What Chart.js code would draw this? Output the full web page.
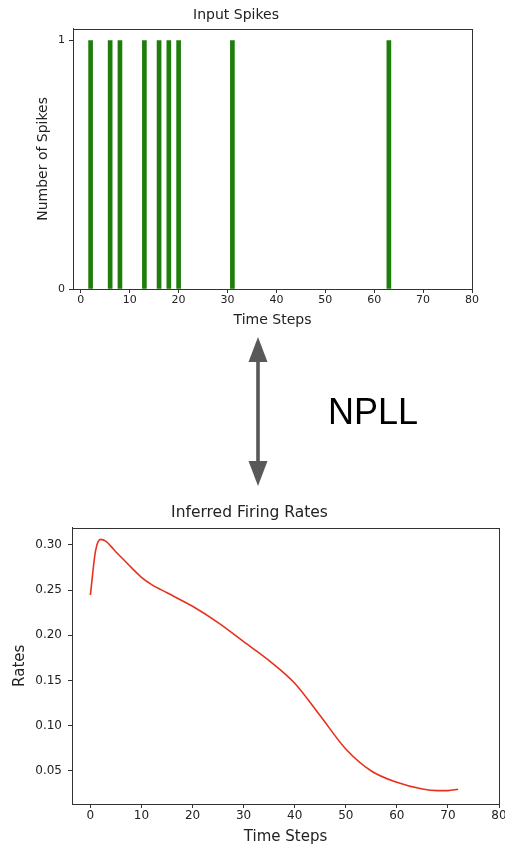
<!DOCTYPE html>
<html>
<head>
<meta charset="utf-8">
<script src="https://cdn.jsdelivr.net/npm/chart.js@4/dist/chart.umd.min.js"></script>
<style>
    html, body { margin: 0; padding: 0; background: #fff; overflow: hidden; }
    body { width: 505px; height: 845px; position: relative; }
    #spikesBox { position: absolute; left: 0; top: 0; width: 505px; height: 335px; }
    #ratesBox { position: absolute; left: 0; top: 495px; width: 505px; height: 350px; }
    #seta { position: absolute; left: 0; top: 0; }
    #npll { position: absolute; left: 328px; top: 394px; font: 36px "Liberation Sans", Arial, sans-serif; color: #000; line-height: 1; }
</style>
</head>
<body>

<div id="spikesBox"><canvas id="spikes" width="505" height="335"></canvas></div>

<svg id="seta" width="505" height="845">
    <rect x="256.2" y="360" width="3.6" height="103" fill="#595959"/>
    <polygon points="258,337 248.5,362 267.5,362" fill="#595959"/>
    <polygon points="258,486 248.5,461 267.5,461" fill="#595959"/>
</svg>
<div id="npll">NPLL</div>

<div id="ratesBox"><canvas id="rates" width="505" height="350"></canvas></div>

<script>
// spikes per time step
const spikeSteps = [2, 6, 8, 13, 16, 18, 20, 31, 63];
const spikeCounts = [1, 1, 1, 1, 1, 1, 1, 1, 1];
const spikeXTicks = [0, 10, 20, 30, 40, 50, 60, 70, 80];
const spikeYTicks = [0, 1];

// inferred firing rate curve
const rateSteps = [0, 1, 2, 3, 4, 5, 6, 8, 10, 12, 15, 20, 25, 30, 35, 40, 45, 50, 55, 60, 65, 68, 70, 72];
const rateValues = [0.2445, 0.293, 0.306, 0.304, 0.2985, 0.292, 0.2865, 0.275, 0.264, 0.256, 0.247, 0.232,
    0.214, 0.193, 0.172, 0.147, 0.111, 0.0743, 0.050, 0.0375, 0.030, 0.0283, 0.0283, 0.0298];
const rateXTicks = [0, 10, 20, 30, 40, 50, 60, 70, 80];
const rateYTicks = [0.05, 0.10, 0.15, 0.20, 0.25, 0.30];

const FONTE = "'DejaVu Sans', sans-serif";
const TINTA = '#222';
const EIXO = '#333';

// frame on all four sides, like matplotlib spines
const moldura = {
    id: 'moldura',
    afterDraw(chart) {
        const a = chart.chartArea;
        const ctx = chart.ctx;
        ctx.save();
        ctx.strokeStyle = EIXO;
        ctx.lineWidth = 1;
        ctx.strokeRect(Math.round(a.left) + 0.5, Math.round(a.top) + 0.5,
            Math.round(a.right - a.left), Math.round(a.bottom - a.top));
        ctx.restore();
    }
};

function ticksFixos(lista) {
    return function (scale) {
        scale.ticks = lista.map(v => ({ value: v }));
    };
}

function grade() {
    return {
        display: true,
        drawOnChartArea: false,
        drawTicks: true,
        tickLength: 4,
        offset: false,
        color: EIXO
    };
}

new Chart(document.getElementById('spikes').getContext('2d'), {
    type: 'bar',
    data: {
        datasets: [{
            data: spikeSteps.map((t, i) => ({ x: t, y: spikeCounts[i] })),
            backgroundColor: '#1f7d0c',
            borderWidth: 0,
            barThickness: 4
        }]
    },
    plugins: [moldura],
    options: {
        responsive: false,
        animation: false,
        layout: { padding: { left: 0, right: 33, top: 0, bottom: 0 } },
        plugins: {
            legend: { display: false },
            tooltip: { enabled: false },
            title: {
                display: true,
                text: 'Input Spikes',
                color: TINTA,
                font: { family: FONTE, size: 14, weight: 'normal' },
                padding: { top: 7, bottom: 5 }
            }
        },
        scales: {
            x: {
                type: 'linear',
                offset: false,
                min: -1.6,
                max: 80,
                afterBuildTicks: ticksFixos(spikeXTicks),
                afterFit: s => { s.height = 46; s.paddingRight = 0; s.paddingLeft = 0; },
                grid: grade(),
                border: { display: true, color: EIXO },
                ticks: { color: TINTA, font: { family: FONTE, size: 11 }, padding: 1, maxRotation: 0 },
                title: {
                    display: true, text: 'Time Steps', color: TINTA,
                    font: { family: FONTE, size: 14 }, padding: { top: 0, bottom: 6 }
                }
            },
            y: {
                type: 'linear',
                min: 0,
                max: 1.047,
                afterBuildTicks: ticksFixos(spikeYTicks),
                afterFit: s => { s.width = 73; },
                grid: grade(),
                border: { display: true, color: EIXO },
                ticks: { color: TINTA, font: { family: FONTE, size: 11 }, padding: 4 },
                title: {
                    display: true, text: 'Number of Spikes', color: TINTA,
                    font: { family: FONTE, size: 14 }, padding: { top: 35, bottom: 0 }
                }
            }
        }
    }
});

new Chart(document.getElementById('rates').getContext('2d'), {
    type: 'line',
    data: {
        datasets: [{
            data: rateSteps.map((t, i) => ({ x: t, y: rateValues[i] })),
            borderColor: '#e8301c',
            borderWidth: 1.6,
            pointRadius: 0,
            fill: false,
            cubicInterpolationMode: 'monotone'
        }]
    },
    plugins: [moldura],
    options: {
        responsive: false,
        animation: false,
        layout: { padding: { left: 0, right: 6, top: 0, bottom: 0 } },
        plugins: {
            legend: { display: false },
            tooltip: { enabled: false },
            title: {
                display: true,
                text: 'Inferred Firing Rates',
                color: TINTA,
                font: { family: FONTE, size: 15.5, weight: 'normal' },
                padding: { top: 9, bottom: 5 }
            }
        },
        scales: {
            x: {
                type: 'linear',
                min: -3.6,
                max: 80,
                afterBuildTicks: ticksFixos(rateXTicks),
                afterFit: s => { s.height = 41; s.paddingRight = 0; s.paddingLeft = 0; },
                grid: grade(),
                border: { display: true, color: EIXO },
                ticks: { color: TINTA, font: { family: FONTE, size: 12 }, padding: 1, maxRotation: 0 },
                title: {
                    display: true, text: 'Time Steps', color: TINTA,
                    font: { family: FONTE, size: 15 }, padding: { top: 0, bottom: -1 }
                }
            },
            y: {
                type: 'linear',
                min: 0.0135,
                max: 0.319,
                afterBuildTicks: ticksFixos(rateYTicks),
                afterFit: s => { s.width = 72; },
                grid: grade(),
                border: { display: true, color: EIXO },
                ticks: {
                    color: TINTA, font: { family: FONTE, size: 12 }, padding: 6,
                    callback: v => v.toFixed(2)
                },
                title: {
                    display: true, text: 'Rates', color: TINTA,
                    font: { family: FONTE, size: 15 }, padding: { top: 11, bottom: 0 }
                }
            }
        }
    }
});
</script>
</body>
</html>
